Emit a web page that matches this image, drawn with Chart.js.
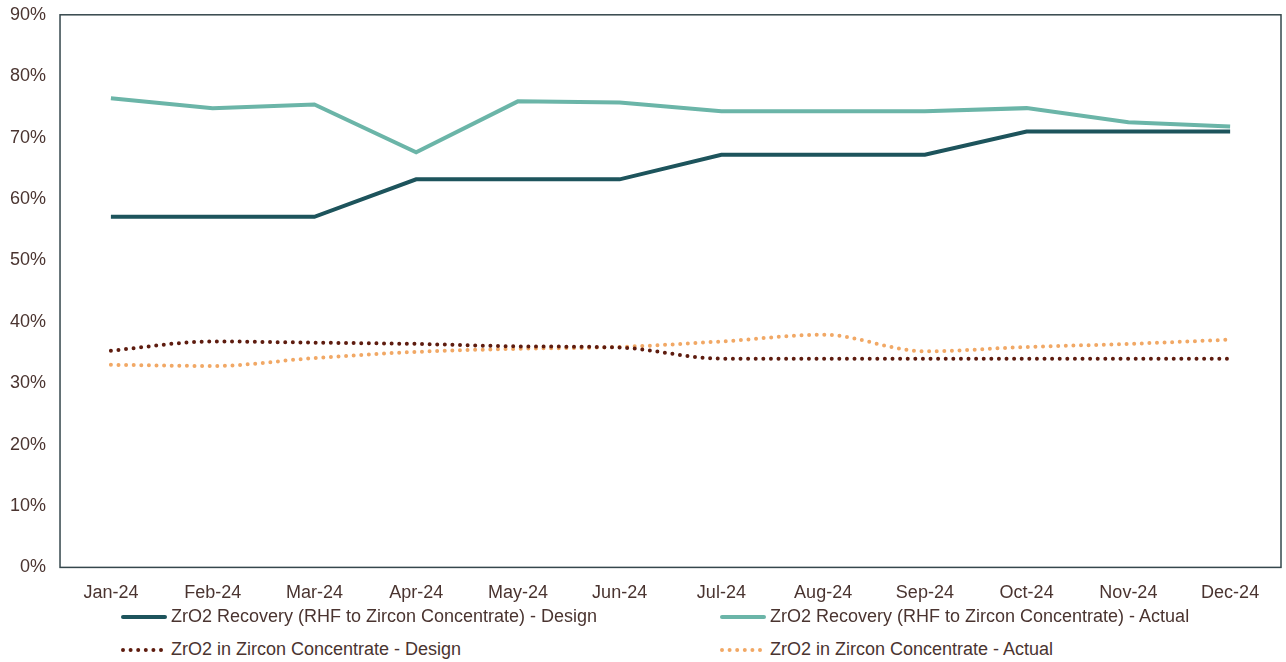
<!DOCTYPE html>
<html>
<head>
<meta charset="utf-8">
<script src="https://cdn.jsdelivr.net/npm/chart.js@4/dist/chart.umd.min.js"></script>
<style>
  html, body { margin: 0; padding: 0; background: #fff; overflow: hidden; }
  #wrap { position: relative; width: 1286px; height: 662px; overflow: hidden; }
  #chart { position: absolute; left: 0; top: -10px; }
  #legend { position: absolute; left: 0; top: 606px; width: 1286px; font-family: "Liberation Sans", Arial, sans-serif; font-size: 18px; color: #4a3430; }
  .item { position: absolute; display: flex; align-items: center; white-space: nowrap; }
  .item canvas { margin-right: 3px; }
</style>
</head>
<body>
<div id="wrap">
  <canvas id="chart" width="1286" height="629"></canvas>
  <div id="legend"></div>
</div>
<script>
const months = ['Jan-24', 'Feb-24', 'Mar-24', 'Apr-24', 'May-24', 'Jun-24', 'Jul-24', 'Aug-24', 'Sep-24', 'Oct-24', 'Nov-24', 'Dec-24'];

const recoveryDesign = [0.571, 0.571, 0.571, 0.632, 0.632, 0.632, 0.672, 0.672, 0.672, 0.710, 0.710, 0.710];
const recoveryActual = [0.764, 0.748, 0.754, 0.676, 0.759, 0.757, 0.743, 0.743, 0.743, 0.748, 0.725, 0.718];
const zrDesign = [0.353, 0.368, 0.366, 0.364, 0.360, 0.358, 0.340, 0.340, 0.340, 0.340, 0.340, 0.340];
const zrActual = [0.330, 0.328, 0.341, 0.351, 0.356, 0.359, 0.368, 0.379, 0.352, 0.359, 0.364, 0.371];

const textColor = '#4a3430';
const fontFamily = '"Liberation Sans", Arial, sans-serif';

// box round the plot area
const frame = {
    id: 'frame',
    afterDatasetsDraw(chart) {
        const a = chart.chartArea, ctx = chart.ctx;
        ctx.save();
        ctx.strokeStyle = '#35474c';
        ctx.lineWidth = 1.5;
        ctx.strokeRect(a.left, a.top, a.right - a.left, a.bottom - a.top);
        ctx.restore();
    }
};

const chart = new Chart(document.getElementById('chart').getContext('2d'), {
    type: 'line',
    data: {
        labels: months,
        datasets: [{
            label: 'ZrO2 Recovery (RHF to Zircon Concentrate) - Design',
            data: recoveryDesign,
            borderColor: '#1d545c',
            borderWidth: 4,
            tension: 0
        }, {
            label: 'ZrO2 Recovery (RHF to Zircon Concentrate) - Actual',
            data: recoveryActual,
            borderColor: '#6bb5a8',
            borderWidth: 4,
            tension: 0
        }, {
            label: 'ZrO2 in Zircon Concentrate - Design',
            data: zrDesign,
            borderColor: '#5e1c0f',
            borderWidth: 4,
            borderDash: [0, 7.6],
            borderCapStyle: 'round',
            cubicInterpolationMode: 'monotone'
        }, {
            label: 'ZrO2 in Zircon Concentrate - Actual',
            data: zrActual,
            borderColor: '#f1a865',
            borderWidth: 4,
            borderDash: [0, 7.6],
            borderCapStyle: 'round',
            cubicInterpolationMode: 'monotone'
        }]
    },
    options: {
        responsive: false,
        animation: false,
        elements: { point: { radius: 0 } },
        layout: { padding: { top: 0, right: 5, left: -4, bottom: 0 } },
        plugins: {
            legend: { display: false },
            tooltip: { enabled: false }
        },
        scales: {
            x: {
                offset: true,
                grid: { display: false, drawTicks: false },
                border: { display: false },
                ticks: { color: textColor, font: { family: fontFamily, size: 18 }, padding: 15, maxRotation: 0 }
            },
            y: {
                min: 0,
                max: 0.9,
                grid: { display: false, drawTicks: false },
                border: { display: false },
                ticks: {
                    stepSize: 0.1,
                    color: textColor,
                    font: { family: fontFamily, size: 18 },
                    padding: 14,
                    callback: v => Math.round(v * 100) + '%'
                }
            }
        }
    },
    plugins: [frame]
});

// two-column legend under the axis
const legend = document.getElementById('legend');
const spots = [[120, 0], [719, 0], [120, 33], [719, 33]];
chart.data.datasets.forEach((ds, i) => {
    const item = document.createElement('div');
    item.className = 'item';
    item.style.left = spots[i][0] + 'px';
    item.style.top = spots[i][1] + 'px';
    const sw = document.createElement('canvas');
    sw.width = 48; sw.height = 20;
    const c = sw.getContext('2d');
    c.strokeStyle = ds.borderColor;
    c.lineWidth = 4;
    c.lineCap = 'round';
    if (ds.borderDash) c.setLineDash(ds.borderDash);
    c.beginPath();
    c.moveTo(3, 10);
    c.lineTo(45, 10);
    c.stroke();
    item.appendChild(sw);
    const t = document.createElement('span');
    t.textContent = ds.label;
    item.appendChild(t);
    legend.appendChild(item);
});
</script>
</body>
</html>
